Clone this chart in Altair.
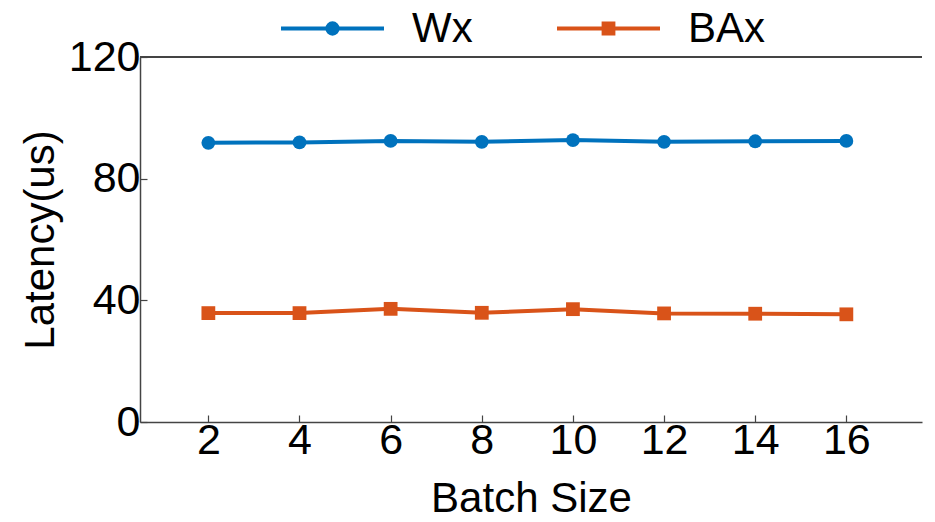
import altair as alt
import pandas as pd

batch_sizes = [2, 4, 6, 8, 10, 12, 14, 16]
wx_latency = [91.8, 91.9, 92.4, 92.1, 92.7, 92.1, 92.3, 92.4]
bax_latency = [35.8, 35.8, 37.2, 35.9, 37.1, 35.7, 35.6, 35.4]
series_names = ["Wx", "BAx"]
series_colors = ["#0072BD", "#D95319"]
series_shapes = ["circle", "square"]
x_ticks = [2, 4, 6, 8, 10, 12, 14, 16]
y_ticks = [0, 40, 80, 120]

df = pd.concat([
    pd.DataFrame({"batch": batch_sizes, "latency": wx_latency, "series": "Wx"}),
    pd.DataFrame({"batch": batch_sizes, "latency": bax_latency, "series": "BAx"}),
])

FONT = "Liberation Sans"

x_enc = alt.X("batch:Q",
              scale=alt.Scale(domain=[0.5, 17.66], nice=False, zero=False),
              axis=alt.Axis(values=x_ticks, title="Batch Size", labelPadding=4,
                            titlePadding=16))
y_enc = alt.Y("latency:Q",
              scale=alt.Scale(domain=[0, 120], nice=False),
              axis=alt.Axis(values=y_ticks, title="Latency(us)", labelPadding=7,
                            titlePadding=6))

circle_path = ("M-1,0H1M0.1,0A0.1,0.1,0,1,1,-0.1,0"
               "A0.1,0.1,0,1,1,0.1,0Z")
square_path = "M-1,0H1M-0.095,-0.095H0.095V0.095H-0.095Z"
legend_paths = [circle_path, square_path]
legend_x = [139, 415]

layers = []
for i, name in enumerate(series_names):
    color = series_colors[i]
    base = alt.Chart(df[df["series"] == name])
    line = base.mark_line(strokeWidth=4).encode(
        x=x_enc, y=y_enc,
        color=alt.Color("series:N",
                        scale=alt.Scale(domain=[name], range=[color]),
                        legend=alt.Legend(
                            title=None, orient="none",
                            legendX=legend_x[i], legendY=-82,
                            direction="horizontal",
                            symbolType=legend_paths[i], symbolSize=10609,
                            symbolStrokeWidth=4, symbolFillColor=color,
                            symbolStrokeColor=color, symbolOpacity=1,
                            labelFont=FONT, labelFontSize=42, labelColor="black",
                            labelOffset=26, labelLimit=300, padding=0)))
    pts = base.mark_point(filled=True, shape=series_shapes[i], size=190,
                          opacity=1, color=color).encode(x=x_enc, y=y_enc)
    layers.append(alt.layer(line, pts))

top_rule = alt.Chart(df).mark_rule(color="#444444", strokeWidth=1.5).encode(
    y=alt.datum(120))

chart = alt.layer(top_rule, *layers).resolve_scale(color="independent").properties(
    width=782, height=365,
    autosize=alt.AutoSizeParams(type="none"),
    padding={"left": 132, "top": 49, "right": 5, "bottom": 92},
).configure_view(stroke=None).configure_axis(
    grid=False,
    labelFont=FONT, labelFontSize=43, labelColor="black",
    titleFont=FONT, titleFontSize=42, titleFontWeight="normal", titleColor="black",
    domainColor="#444444", domainWidth=1.5,
    tickColor="#444444", tickWidth=1.2, tickSize={"expr": "-7"},
)

chart.save("out.html", embed_options={"renderer": "svg", "actions": False})
